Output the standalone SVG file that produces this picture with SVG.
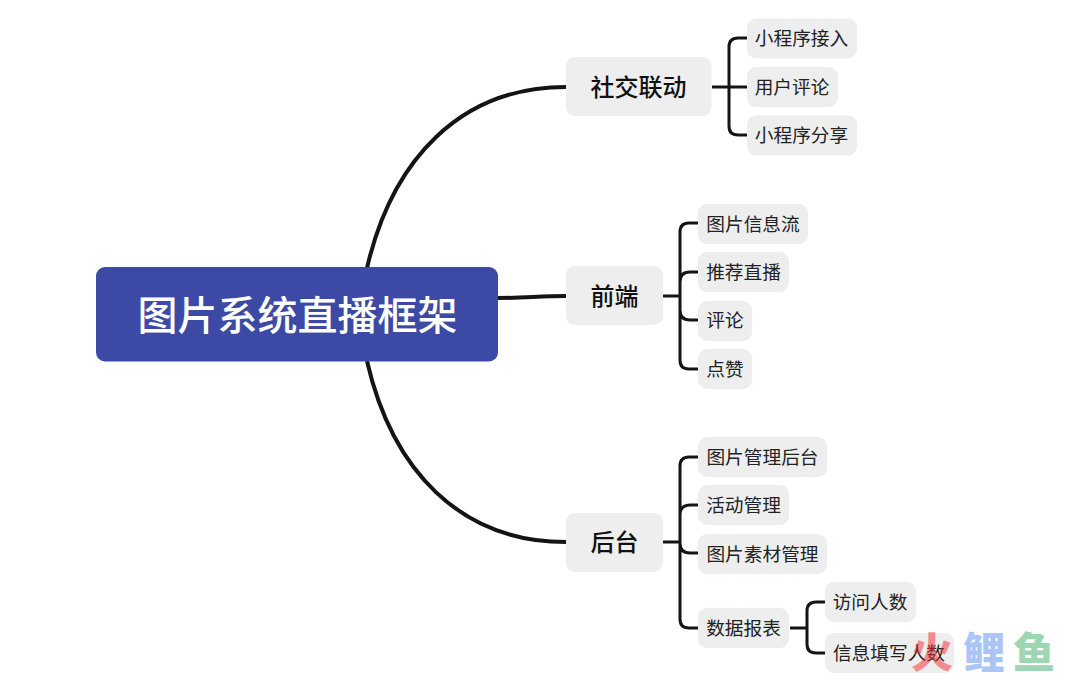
<svg xmlns="http://www.w3.org/2000/svg" width="1080" height="677" viewBox="0 0 1080 677">
<style>
text{font-family:"Noto Sans CJK SC","Noto Sans",sans-serif;text-anchor:middle;fill:#222}
.r{fill:#eeeeee}
.l{font-size:18.7px;dominant-baseline:central}
.m{font-size:24px;font-weight:500;fill:#111;dominant-baseline:central}
.c{fill:none;stroke:#141414;stroke-width:3;stroke-linecap:butt}
.t{stroke-width:4}
.w{font-weight:900;font-size:42px}
</style>
<rect width="1080" height="677" fill="#ffffff"/>
<g id="connectors">
<path class="c t" d="M367 268C392 160 460 87 566 87"/>
<path class="c t" d="M498 298C525 298 540 296 566 296"/>
<path class="c t" d="M367 361C392 470 460 542 566 542"/>
<path class="c" d="M712 87H747M747 38H738Q729 38 729 47V126Q729 135 738 135H747"/>
<path class="c" d="M663 296H680M698 223H689Q680 223 680 232V360Q680 369 689 369H698M698 272H690Q680 272 680 282M698 320H690Q680 320 680 310"/>
<path class="c" d="M663 542H680M698 457H689Q680 457 680 466V619Q680 628 689 628H698M698 505H690Q680 505 680 515M698 553H690Q680 553 680 543"/>
<path class="c" d="M790 628H807M825 602H816Q807 602 807 611V644Q807 653 816 653H825"/>
</g>
<g id="root"><rect x="96" y="267" width="402" height="94.500" rx="9" fill="#3d4aa5"/><text x="297.500" y="312.500" font-size="40" font-weight="500" dominant-baseline="central" style="fill:#fff">图片系统直播框架</text></g>
<g id="n1"><rect class="r" x="566" y="57" width="145.500" height="59" rx="9"/><text class="m" x="638.500" y="85">社交联动</text></g>
<g id="n2"><rect class="r" x="566" y="266" width="97" height="59" rx="9"/><text class="m" x="614.500" y="294.500">前端</text></g>
<g id="n3"><rect class="r" x="566" y="513" width="97" height="59" rx="9"/><text class="m" x="614.500" y="540.500">后台</text></g>
<g id="a1"><rect class="r" x="747" y="18.500" width="110" height="40" rx="9"/><text class="l" x="801.500" y="36.500">小程序接入</text></g>
<g id="a2"><rect class="r" x="747" y="67" width="91" height="40" rx="9"/><text class="l" x="792" y="85">用户评论</text></g>
<g id="a3"><rect class="r" x="747" y="115.500" width="110" height="40" rx="9"/><text class="l" x="801.500" y="133.500">小程序分享</text></g>
<g id="b1"><rect class="r" x="698" y="204" width="110" height="40" rx="9"/><text class="l" x="753" y="222">图片信息流</text></g>
<g id="b2"><rect class="r" x="698" y="252" width="91" height="40" rx="9"/><text class="l" x="743.500" y="270">推荐直播</text></g>
<g id="b3"><rect class="r" x="698" y="301" width="54" height="40" rx="9"/><text class="l" x="725" y="318.500">评论</text></g>
<g id="b4"><rect class="r" x="698" y="349" width="54" height="40" rx="9"/><text class="l" x="725" y="367">点赞</text></g>
<g id="c1"><rect class="r" x="698" y="437" width="129" height="40" rx="9"/><text class="l" x="762.500" y="455">图片管理后台</text></g>
<g id="c2"><rect class="r" x="698" y="485" width="91" height="40" rx="9"/><text class="l" x="743.500" y="503.500">活动管理</text></g>
<g id="c3"><rect class="r" x="698" y="534" width="129" height="40" rx="9"/><text class="l" x="762.500" y="552">图片素材管理</text></g>
<g id="c4"><rect class="r" x="698" y="608" width="91" height="40" rx="9"/><text class="l" x="743.500" y="626">数据报表</text></g>
<g id="d1"><rect class="r" x="825" y="582" width="91" height="40" rx="9"/><text class="l" x="870" y="600">访问人数</text></g>
<g id="d2"><rect class="r" x="825" y="633" width="129" height="40" rx="9"/><text class="l" x="889" y="651">信息填写人数</text></g>
<g id="watermark" opacity="0.5">
<text class="w" x="932" y="668" style="fill:#f22c34">火</text>
<text class="w" x="984" y="668" style="fill:#5a8fee">鲤</text>
<text class="w" x="1034" y="668" style="fill:#3fae6a">鱼</text>
</g>
</svg>
